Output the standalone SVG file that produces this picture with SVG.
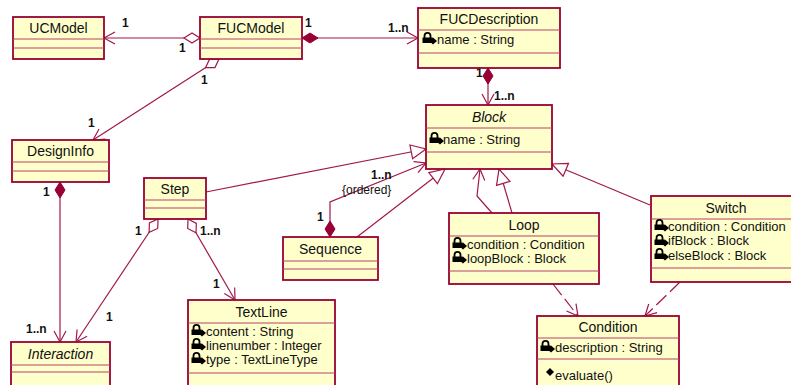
<svg xmlns="http://www.w3.org/2000/svg" width="791" height="385" viewBox="0 0 791 385">
<style>
.box{fill:#ffffcc;stroke:#990033;stroke-width:1.8}
.sep{stroke:#b8406a;stroke-width:1}
.nm{font-family:"Liberation Sans",Arial,sans-serif;font-size:14px;fill:#111;text-anchor:middle}
.it{font-style:italic}
.at{font-family:"Liberation Sans",Arial,sans-serif;font-size:13px;fill:#111}
.ml{font-family:"Liberation Sans",Arial,sans-serif;font-size:12px;font-weight:bold;fill:#111}
.lb{font-family:"Liberation Sans",Arial,sans-serif;font-size:12px;fill:#111}
.ln{fill:none;stroke:#a01848;stroke-width:1.2}
.dash{stroke-dasharray:14 5}
</style>
<defs>
<marker id="arr" markerUnits="userSpaceOnUse" markerWidth="14" markerHeight="14" refX="11" refY="6" orient="auto" overflow="visible">
<path d="M0,0 L11,6 L0,12" fill="none" stroke="#a01848" stroke-width="1.2"/>
</marker>
<marker id="tri" markerUnits="userSpaceOnUse" markerWidth="16" markerHeight="16" refX="15" refY="7" orient="auto" overflow="visible">
<path d="M0,0 L15,7 L0,14 Z" fill="#fff" stroke="#a01848" stroke-width="1.2"/>
</marker>
<marker id="dfill" markerUnits="userSpaceOnUse" markerWidth="18" markerHeight="12" refX="0" refY="5" orient="auto" overflow="visible">
<path d="M0,5 L8,0 L16,5 L8,10 Z" fill="#990033" stroke="#990033" stroke-width="1"/>
</marker>
<marker id="dopen" markerUnits="userSpaceOnUse" markerWidth="18" markerHeight="12" refX="0" refY="5" orient="auto" overflow="visible">
<path d="M0,5 L8,0 L16,5 L8,10 Z" fill="#fff" stroke="#a01848" stroke-width="1.2"/>
</marker>
<g id="lock">
<path d="M2.5,6 V3.8 a3,3 0 0 1 6,0 V6" fill="none" stroke="#000" stroke-width="1.8"/>
<rect x="0.5" y="5.5" width="10" height="5.5" fill="#000"/>
<path d="M7,9 L11,5.5 L15,9 L11,12.5 Z" fill="#000"/>
</g>
<path id="pub" d="M0,4 L4,0 L8,4 L4,8 Z" fill="#000"/>
</defs>

<g id="connectors">
<path class="ln" d="M200,38 L104,38" marker-start="url(#dopen)" marker-end="url(#arr)"/>
<path class="ln" d="M302,38 L418,38" marker-start="url(#dfill)" marker-end="url(#arr)"/>
<path class="ln" d="M219,59 L93,140" marker-start="url(#dopen)" marker-end="url(#arr)"/>
<path class="ln" d="M488,68 L488,105" marker-start="url(#dfill)" marker-end="url(#arr)"/>
<path class="ln" d="M60,182 L60,342" marker-start="url(#dfill)" marker-end="url(#arr)"/>
<path class="ln" d="M158,219 L76,342" marker-start="url(#dopen)" marker-end="url(#arr)"/>
<path class="ln" d="M188,219 L235,300" marker-start="url(#dopen)" marker-end="url(#arr)"/>
<path class="ln" d="M206,192 L426,149" marker-end="url(#tri)"/>
<path class="ln" d="M330,237 L330,202 L426,163" marker-start="url(#dfill)" marker-end="url(#arr)"/>
<path class="ln" d="M357,237 L445,169" marker-end="url(#tri)"/>
<path class="ln" d="M492,213 L477,196 L480,169" marker-end="url(#arr)"/>
<path class="ln" d="M512,213 L499,169" marker-end="url(#tri)"/>
<path class="ln" d="M650,205 L552,164" marker-end="url(#tri)"/>
<path class="ln dash" d="M553,284 L578,316" marker-end="url(#arr)"/>
<path class="ln dash" d="M680,282 L645,316" marker-end="url(#arr)"/>
<text class="ml" x="122" y="27">1</text>
<text class="ml" x="179" y="52">1</text>
<text class="ml" x="305" y="27">1</text>
<text class="ml" x="388" y="32">1..n</text>
<text class="ml" x="201" y="84">1</text>
<text class="ml" x="476" y="77">1</text>
<text class="ml" x="494" y="100">1..n</text>
<text class="ml" x="88" y="127">1</text>
<text class="ml" x="43" y="196">1</text>
<text class="ml" x="26" y="333">1..n</text>
<text class="ml" x="135" y="235">1</text>
<text class="ml" x="200" y="235">1..n</text>
<text class="ml" x="106" y="321">1</text>
<text class="ml" x="213" y="288">1</text>
<text class="ml" x="317" y="221">1</text>
<text class="ml" x="371" y="179">1..n</text>
<text class="lb" x="342" y="194">{ordered}</text>
</g>

<g id="UCModel">
<rect class="box" x="13" y="17" width="91" height="42"/>
<line class="sep" x1="13" y1="39" x2="104" y2="39"/>
<line class="sep" x1="13" y1="48" x2="104" y2="48"/>
<text class="nm" x="58.5" y="33">UCModel</text>
</g>

<g id="FUCModel">
<rect class="box" x="200" y="17" width="102" height="42"/>
<line class="sep" x1="200" y1="39" x2="302" y2="39"/>
<line class="sep" x1="200" y1="48" x2="302" y2="48"/>
<text class="nm" x="251" y="33">FUCModel</text>
</g>

<g id="FUCDescription">
<rect class="box" x="418" y="8" width="142" height="60"/>
<line class="sep" x1="418" y1="30" x2="560" y2="30"/>
<line class="sep" x1="418" y1="53" x2="560" y2="53"/>
<text class="nm" x="489" y="24">FUCDescription</text>
<use href="#lock" x="422" y="32"/>
<text class="at" x="437" y="43.5">name : String</text>
</g>

<g id="Block">
<rect class="box" x="426" y="105" width="126" height="64"/>
<line class="sep" x1="426" y1="128" x2="552" y2="128"/>
<line class="sep" x1="426" y1="152" x2="552" y2="152"/>
<text class="nm it" x="489" y="121.5">Block</text>
<use href="#lock" x="429" y="132"/>
<text class="at" x="443" y="144">name : String</text>
</g>

<g id="DesignInfo">
<rect class="box" x="12" y="140" width="97" height="42"/>
<line class="sep" x1="12" y1="162" x2="109" y2="162"/>
<line class="sep" x1="12" y1="171" x2="109" y2="171"/>
<text class="nm" x="60.5" y="156">DesignInfo</text>
</g>

<g id="Step">
<rect class="box" x="144" y="178" width="62" height="41"/>
<line class="sep" x1="144" y1="200" x2="206" y2="200"/>
<line class="sep" x1="144" y1="208" x2="206" y2="208"/>
<text class="nm" x="175" y="194">Step</text>
</g>

<g id="Sequence">
<rect class="box" x="283" y="237" width="95" height="43"/>
<line class="sep" x1="283" y1="261" x2="378" y2="261"/>
<line class="sep" x1="283" y1="269" x2="378" y2="269"/>
<text class="nm" x="330.5" y="254">Sequence</text>
</g>

<g id="Loop">
<rect class="box" x="449" y="213" width="150" height="71"/>
<line class="sep" x1="449" y1="236" x2="599" y2="236"/>
<line class="sep" x1="449" y1="271" x2="599" y2="271"/>
<text class="nm" x="524" y="229.5">Loop</text>
<use href="#lock" x="452" y="237"/>
<text class="at" x="467" y="248.5">condition : Condition</text>
<use href="#lock" x="452" y="251"/>
<text class="at" x="467" y="262.5">loopBlock : Block</text>
</g>

<g id="Switch">
<rect class="box" x="651" y="196" width="150" height="86"/>
<line class="sep" x1="651" y1="219" x2="801" y2="219"/>
<line class="sep" x1="651" y1="268" x2="801" y2="268"/>
<text class="nm" x="726" y="212.5">Switch</text>
<use href="#lock" x="654" y="219"/>
<text class="at" x="668" y="230.5">condition : Condition</text>
<use href="#lock" x="654" y="234"/>
<text class="at" x="668" y="245">ifBlock : Block</text>
<use href="#lock" x="654" y="248"/>
<text class="at" x="668" y="259.5">elseBlock : Block</text>
</g>

<g id="Interaction">
<rect class="box" x="11" y="342" width="99" height="55"/>
<line class="sep" x1="11" y1="365" x2="110" y2="365"/>
<line class="sep" x1="11" y1="372" x2="110" y2="372"/>
<text class="nm it" x="60.5" y="358.5">Interaction</text>
</g>

<g id="TextLine">
<rect class="box" x="188" y="300" width="147" height="95"/>
<line class="sep" x1="188" y1="323" x2="335" y2="323"/>
<line class="sep" x1="188" y1="373" x2="335" y2="373"/>
<text class="nm" x="261.5" y="316.5">TextLine</text>
<use href="#lock" x="191" y="324"/>
<text class="at" x="206" y="335.5">content : String</text>
<use href="#lock" x="191" y="338"/>
<text class="at" x="206" y="350">linenumber : Integer</text>
<use href="#lock" x="191" y="352"/>
<text class="at" x="206" y="363.5">type : TextLineType</text>
</g>

<g id="Condition">
<rect class="box" x="537" y="316" width="142" height="80"/>
<line class="sep" x1="537" y1="338" x2="679" y2="338"/>
<line class="sep" x1="537" y1="359" x2="679" y2="359"/>
<text class="nm" x="608" y="332">Condition</text>
<use href="#lock" x="540" y="340"/>
<text class="at" x="555" y="351.5">description : String</text>
<use href="#pub" x="546" y="368"/>
<text class="at" x="555" y="379.5">evaluate()</text>
</g>
</svg>
